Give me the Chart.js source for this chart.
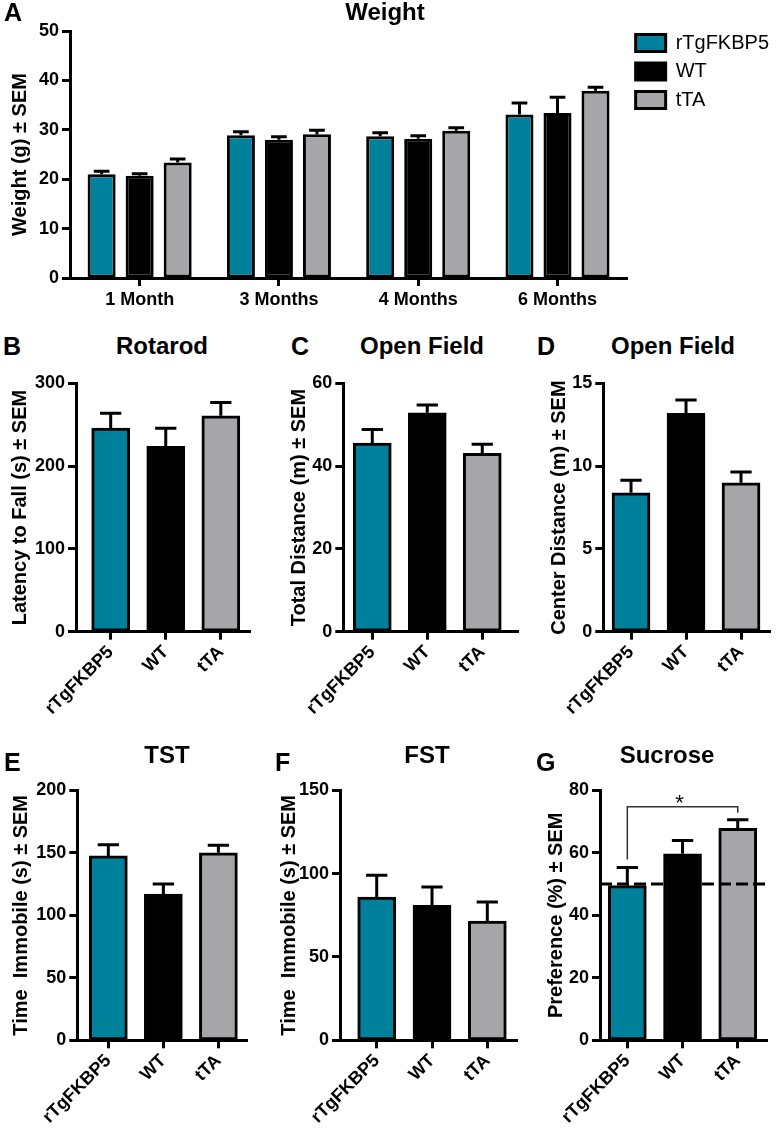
<!DOCTYPE html>
<html lang="en">
<head>
<meta charset="utf-8">
<title>rTgFKBP5 weight and behaviour</title>
<script src="https://cdn.jsdelivr.net/npm/chart.js@4"></script>
<style>
  body { margin: 0; background: #fff; }
  #fig { position: relative; width: 777px; height: 1133px; overflow: hidden; background: #fff;
         font-family: "Liberation Sans", Arial, sans-serif; color: #000; }
  #fig canvas { position: absolute; }
  .ttl { position: absolute; font-weight: bold; font-size: 24px; transform: translate(-50%, -50%); white-space: nowrap; }
  .lbl { position: absolute; font-weight: bold; font-size: 25px; transform: translateY(-50%); }
</style>
</head>
<body>
<div id="fig">
  <canvas id="chartA"></canvas>
  <canvas id="chartB"></canvas>
  <canvas id="chartC"></canvas>
  <canvas id="chartD"></canvas>
  <canvas id="chartE"></canvas>
  <canvas id="chartF"></canvas>
  <canvas id="chartG"></canvas>

  <div class="lbl" style="left:4px; top:12px">A</div>
  <div class="ttl" style="left:385px; top:12px">Weight</div>
  <div class="lbl" style="left:3px; top:346px">B</div>
  <div class="ttl" style="left:162px; top:346px">Rotarod</div>
  <div class="lbl" style="left:291px; top:346px">C</div>
  <div class="ttl" style="left:422px; top:346px">Open Field</div>
  <div class="lbl" style="left:537px; top:346px">D</div>
  <div class="ttl" style="left:673px; top:346px">Open Field</div>
  <div class="lbl" style="left:4px; top:762px">E</div>
  <div class="ttl" style="left:167px; top:755px">TST</div>
  <div class="lbl" style="left:275px; top:762px">F</div>
  <div class="ttl" style="left:427px; top:755px">FST</div>
  <div class="lbl" style="left:536px; top:762px">G</div>
  <div class="ttl" style="left:667px; top:755px">Sucrose</div>
</div>

<script>
// ---- data ----
const months = ['1 Month', '3 Months', '4 Months', '6 Months'];
const groups = ['rTgFKBP5', 'WT', 'tTA'];

// A: body weight (g), mean and SEM per month
const weightTg = [21.0, 28.9, 28.7, 33.1];
const weightTgSem = [0.6, 0.7, 0.7, 2.3];
const weightWT = [20.7, 28.0, 28.2, 33.4];
const weightWTSem = [0.4, 0.6, 0.6, 3.2];
const weightTTA = [23.4, 29.1, 29.8, 37.9];
const weightTTASem = [0.7, 0.8, 0.6, 0.7];

// B-G: one value per group (rTgFKBP5, WT, tTA)
const rotarod = [246, 224, 261];
const rotarodSem = [18, 22, 16];
const totalDistance = [45.6, 52.9, 43.1];
const totalDistanceSem = [3.3, 1.9, 2.2];
const centerDistance = [8.4, 13.2, 9.0];
const centerDistanceSem = [0.75, 0.8, 0.65];
const tst = [147.5, 117, 150];
const tstSem = [9, 8, 6];
const fst = [86, 81, 71.5];
const fstSem = [13, 11, 11.5];
const sucrose = [49.5, 59.7, 67.8];
const sucroseSem = [5.8, 4.2, 2.8];
const sucroseChance = 50;          // dashed reference line
const sucroseComparison = [0, 2];  // rTgFKBP5 vs tTA
const sucroseStar = '*';

// ---- style ----
const groupColors = ['#00819b', '#000000', '#a6a6a9'];
Chart.defaults.font.family = '"Liberation Sans", Arial, sans-serif';
Chart.defaults.color = '#000';

const axisFont = { size: 18, weight: 'bold' };
const titleFont = { size: 20, weight: 'bold' };
const tickGrid = { drawOnChartArea: false, drawTicks: true, tickLength: 8, tickWidth: 3, tickColor: '#000', offset: false };
const axisBorder = { display: true, width: 3, color: '#000' };

// error bars (upper SEM only, GraphPad style)
const errorBars = {
  id: 'errorBars',
  afterDatasetsDraw(chart) {
    const ctx = chart.ctx;
    const yScale = chart.scales.y;
    ctx.save();
    ctx.strokeStyle = '#000';
    ctx.lineWidth = 3;
    chart.data.datasets.forEach((ds, di) => {
      if (!ds.sem) return;
      const meta = chart.getDatasetMeta(di);
      meta.data.forEach((bar, i) => {
        const p = bar.getProps(['x', 'y', 'width'], true);
        const v = meta.controller.getParsed(i).y;
        const top = yScale.getPixelForValue(v + ds.sem[i]);
        const half = p.width * 0.28;
        ctx.beginPath();
        ctx.moveTo(p.x, p.y);
        ctx.lineTo(p.x, top);
        ctx.moveTo(p.x - half, top);
        ctx.lineTo(p.x + half, top);
        ctx.stroke();
      });
    });
    ctx.restore();
  }
};

// chance line + significance bracket for the sucrose panel
const sucroseMarks = {
  id: 'sucroseMarks',
  afterDatasetsDraw(chart) {
    const { ctx, chartArea } = chart;
    const x = chart.scales.x, y = chart.scales.y;
    ctx.save();
    const yc = y.getPixelForValue(sucroseChance);
    ctx.strokeStyle = '#000';
    ctx.lineWidth = 3;
    ctx.setLineDash([12, 5]);
    ctx.beginPath();
    ctx.moveTo(chartArea.left, yc);
    ctx.lineTo(chartArea.right, yc);
    ctx.stroke();
    ctx.setLineDash([]);

    const a = sucroseComparison[0], b = sucroseComparison[1];
    const capA = y.getPixelForValue(sucrose[a] + sucroseSem[a]);
    const capB = y.getPixelForValue(sucrose[b] + sucroseSem[b]);
    const xa = x.getPixelForValue(a), xb = x.getPixelForValue(b);
    const top = Math.min(capA, capB) - 13;
    ctx.lineWidth = 1.5;
    ctx.strokeStyle = '#333';
    ctx.beginPath();
    ctx.moveTo(xa, capA - 8);
    ctx.lineTo(xa, top);
    ctx.lineTo(xb, top);
    ctx.lineTo(xb, capB - 7);
    ctx.stroke();
    ctx.fillStyle = '#000';
    ctx.font = '22px "Liberation Sans", Arial, sans-serif';
    ctx.textAlign = 'center';
    ctx.textBaseline = 'alphabetic';
    ctx.fillText(sucroseStar, (xa + xb) / 2 - 3, top + 3);
    ctx.restore();
  }
};

function zeroPad(s) {
  s.paddingTop = 0; s.paddingBottom = 0; s.paddingLeft = 0; s.paddingRight = 0;
}

function yAxis(max, step, title, width, padTop) {
  return {
    min: 0,
    max: max,
    ticks: { stepSize: step, font: axisFont, color: '#000', padding: 3 },
    grid: { ...tickGrid },
    border: { ...axisBorder },
    title: { display: true, text: title, font: titleFont, color: '#000', padding: 0 },
    afterFit(s) { zeroPad(s); s.width = width; s.paddingTop = padTop || 0; }
  };
}

// ---- panel A: grouped weight bars ----
(function () {
  const cv = document.getElementById('chartA');
  cv.width = 771; cv.height = 330;
  cv.style.left = '8px'; cv.style.top = '0px';
  const series = [
    [weightTg, weightTgSem],
    [weightWT, weightWTSem],
    [weightTTA, weightTTASem]
  ];
  new Chart(cv, {
    type: 'bar',
    data: {
      labels: months,
      datasets: series.map((s, i) => ({
        label: groups[i],
        data: s[0],
        sem: s[1],
        backgroundColor: groupColors[i],
        borderColor: '#000',
        borderWidth: 3,
        borderSkipped: false,
        categoryPercentage: 0.819,
        barPercentage: 0.737
      }))
    },
    options: {
      responsive: false,
      animation: false,
      layout: { padding: { top: 24.5, right: 0, left: 0, bottom: 0 } },
      plugins: {
        legend: {
          position: 'right',
          align: 'start',
          labels: { boxWidth: 30, boxHeight: 17, padding: 8.5, font: { size: 20 }, color: '#000' }
        },
        tooltip: { enabled: false }
      },
      scales: {
        x: {
          offset: true,
          grid: { ...tickGrid },
          border: { ...axisBorder },
          ticks: { font: axisFont, color: '#000', padding: 3, maxRotation: 0, autoSkip: false },
          afterFit(s) { zeroPad(s); s.height = 52; }
        },
        y: yAxis(50, 10, 'Weight (g) ± SEM', 62, 31)
      }
    },
    plugins: [errorBars]
  });
})();

// ---- panels B-G: one bar per group on a linear index axis ----
function groupPanel(id, g, values, sems, yMax, yStep, yTitle, extra) {
  const cv = document.getElementById(id);
  const y0 = Math.round(g.T - 20);
  cv.width = Math.round(g.R + 8 - g.x0);
  cv.height = g.bottom - y0;
  cv.style.left = g.x0 + 'px';
  cv.style.top = y0 + 'px';
  const xH = g.bottom - g.B;
  new Chart(cv, {
    type: 'bar',
    data: {
      datasets: [{
        data: groups.map((name, i) => ({ x: i, y: values[i] })),
        sem: sems,
        backgroundColor: groupColors,
        borderColor: '#000',
        borderWidth: 3,
        borderSkipped: false,
        barThickness: 38
      }]
    },
    options: {
      responsive: false,
      animation: false,
      layout: { padding: { top: g.T - y0, right: cv.width - (g.R - g.x0), left: 0, bottom: 0 } },
      plugins: { legend: { display: false }, tooltip: { enabled: false } },
      scales: {
        x: {
          type: 'linear',
          min: g.xMin,
          max: g.xMax,
          offset: false,
          afterBuildTicks(s) { s.ticks = groups.map((name, i) => ({ value: i })); },
          ticks: {
            callback: v => groups[v],
            minRotation: 45, maxRotation: 45, autoSkip: false,
            font: axisFont, color: '#000', padding: 2
          },
          grid: { ...tickGrid },
          border: { ...axisBorder },
          afterFit(s) { zeroPad(s); s.height = xH; }
        },
        y: yAxis(yMax, yStep, yTitle, g.L - g.x0, 0)
      }
    },
    plugins: extra ? [errorBars, extra] : [errorBars]
  });
}

groupPanel('chartB', { x0: 8, L: 76, T: 383.5, R: 250, B: 631.7, bottom: 745, xMin: -0.63, xMax: 2.53 },
  rotarod, rotarodSem, 300, 100, 'Latency to Fall (s) ± SEM');
groupPanel('chartC', { x0: 287, L: 343.3, T: 383.5, R: 518, B: 631.7, bottom: 745, xMin: -0.527, xMax: 2.65 },
  totalDistance, totalDistanceSem, 60, 20, 'Total Distance (m) ± SEM');
groupPanel('chartD', { x0: 547, L: 603.3, T: 383.5, R: 770, B: 631.7, bottom: 745, xMin: -0.504, xMax: 2.527 },
  centerDistance, centerDistanceSem, 15, 5, 'Center Distance (m) ± SEM');
groupPanel('chartE', { x0: 9, L: 77.3, T: 790.3, R: 247, B: 1040.3, bottom: 1133, xMin: -0.564, xMax: 2.52 },
  tst, tstSem, 200, 50, 'Time  Immobile (s) ± SEM');
groupPanel('chartF', { x0: 277, L: 340, T: 790.3, R: 517, B: 1040.3, bottom: 1133, xMin: -0.664, xMax: 2.537 },
  fst, fstSem, 150, 50, 'Time  Immobile (s) ± SEM');
groupPanel('chartG', { x0: 544, L: 600, T: 790.3, R: 767, B: 1040.3, bottom: 1133, xMin: -0.495, xMax: 2.53 },
  sucrose, sucroseSem, 80, 20, 'Preference (%) ± SEM', sucroseMarks);
</script>
</body>
</html>
